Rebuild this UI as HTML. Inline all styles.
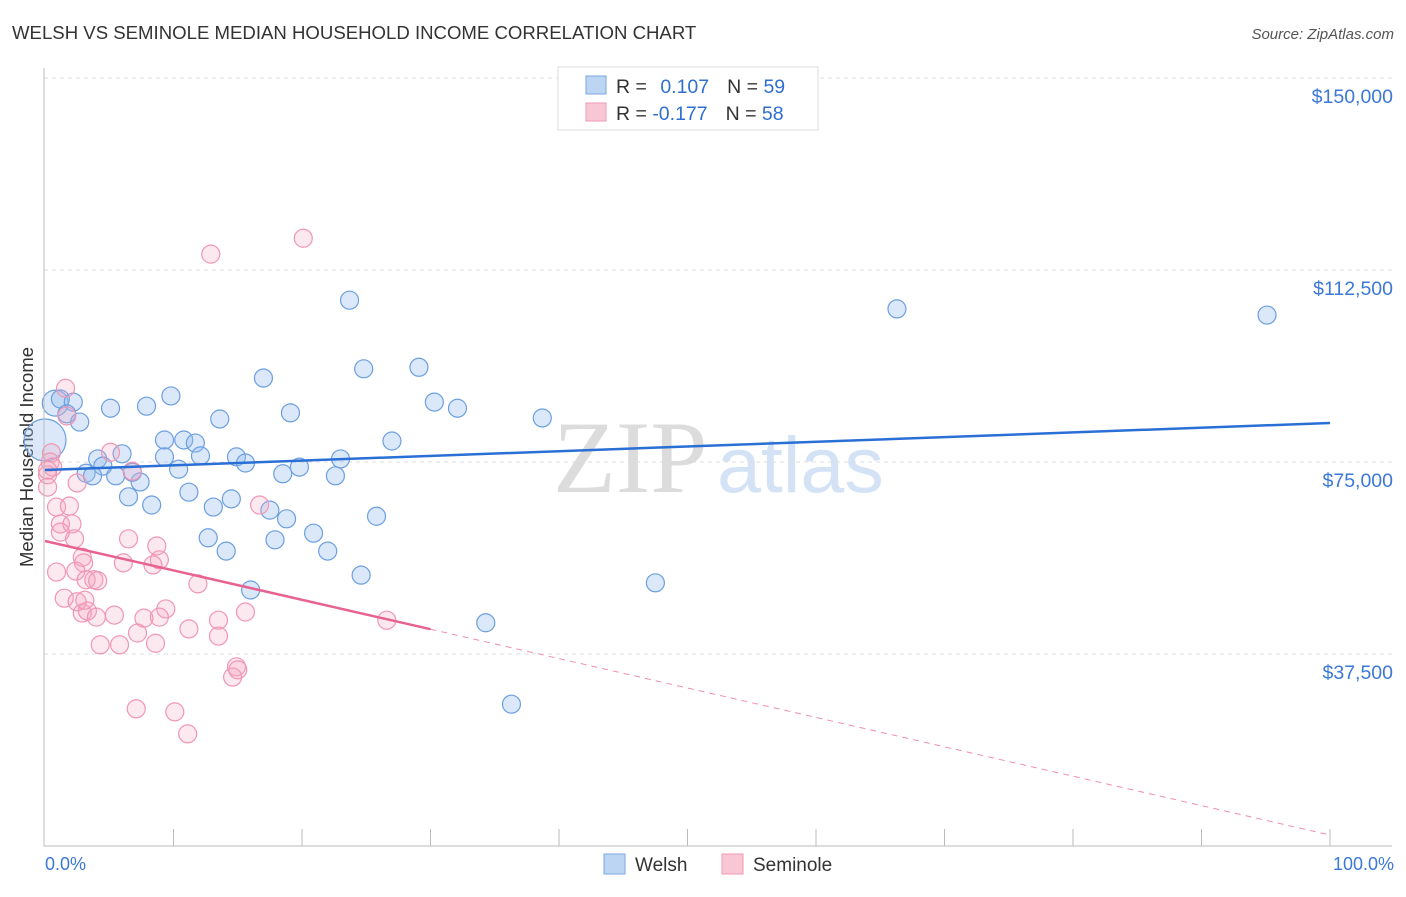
<!DOCTYPE html>
<html><head><meta charset="utf-8"><style>
body{margin:0;background:#fff;font-family:"Liberation Sans",sans-serif}
svg text{font-family:"Liberation Sans",sans-serif}
</style></head><body>
<svg width="1406" height="892" viewBox="0 0 1406 892" id="c">
<text x="12" y="39" font-size="18.6" fill="#333">WELSH VS SEMINOLE MEDIAN HOUSEHOLD INCOME CORRELATION CHART</text>
<text x="1394" y="39" font-size="15" fill="#555" font-style="italic" text-anchor="end">Source: ZipAtlas.com</text>
<text x="33" y="457" font-size="18.5" fill="#333" text-anchor="middle" transform="rotate(-90 33 457)">Median Household Income</text>
<text x="553" y="492" font-size="103" fill="#dcdcdc" style="font-family:'Liberation Serif',serif">ZIP</text>
<text x="717" y="492" font-size="79" fill="#d3e3f5">atlas</text>
<g id="grid"></g><g id="pts"></g><g id="trend"></g>
<line x1="44" y1="68" x2="44" y2="846" stroke="#bbb"/>
<line x1="44" y1="846" x2="1392" y2="846" stroke="#bbb"/>
<text x="45" y="870" font-size="18" fill="#3b78d8">0.0%</text>
<text x="1394" y="870" font-size="18" fill="#3b78d8" text-anchor="end">100.0%</text>
<g>
<rect x="558" y="67" width="260" height="63" fill="#fff" stroke="#ddd"/>
<rect x="586" y="76" width="20" height="18" fill="#bcd5f3" stroke="#7aa7e0"/>
<rect x="586" y="103" width="20" height="18" fill="#f9c6d5" stroke="#ee99b3"/>
<text x="616" y="93" font-size="19.5" fill="#333">R = <tspan fill="#2f6fd0" dx="8">0.107</tspan><tspan dx="18">N = </tspan><tspan fill="#2f6fd0">59</tspan></text>
<text x="616" y="120" font-size="19.5" fill="#333">R = <tspan fill="#2f6fd0">-0.177</tspan><tspan dx="18">N = </tspan><tspan fill="#2f6fd0">58</tspan></text>
</g>
<g>
<rect x="604" y="854" width="21" height="20" fill="#bcd5f3" stroke="#7aa7e0"/>
<text x="635" y="871" font-size="19" fill="#333">Welsh</text>
<rect x="722" y="854" width="21" height="20" fill="#f9c6d5" stroke="#ee99b3"/>
<text x="753" y="871" font-size="19" fill="#333">Seminole</text>
</g>
</svg>
<script>
const yTicks=[37500,75000,112500,150000];
const yTickLabels=["$37,500","$75,000","$112,500","$150,000"];
const xTickPcts=[10,20,30,40,50,60,70,80,90,100];
const welshX=[0,0.8,1.2,2.2,1.7,2.7,5.1,7.9,9.8,17.0,19.1,13.6,23.7,24.8,29.1,30.3,32.1,27.0,38.7,66.3,95.1,9.3,10.8,11.7,9.3,10.4,4.1,4.5,3.2,3.7,5.5,7.4,6.8,14.9,15.6,12.1,19.8,18.5,23.0,22.6,11.2,6.5,8.3,13.1,14.5,17.5,18.8,12.7,14.1,17.9,20.9,22.0,25.8,24.6,16.0,47.5,34.3,36.3,6.0];
const welshY=[79.3,86.5,87.3,86.7,84.4,82.8,85.5,85.9,87.9,91.4,84.6,83.4,106.6,93.2,93.5,86.7,85.5,79.1,83.6,104.9,103.7,79.3,79.3,78.7,76.0,73.6,75.6,74.2,72.8,72.3,72.3,71.1,73.0,76.0,74.8,76.2,74.0,72.7,75.6,72.3,69.1,68.2,66.6,66.2,67.8,65.6,63.9,60.2,57.6,59.8,61.1,57.6,64.4,52.9,50.0,51.4,43.6,27.7,76.6];
const seminoleX=[1.6,1.7,0.5,0.4,0.6,0.2,0.2,2.5,6.8,5.1,0.9,1.9,1.2,2.1,1.2,2.3,2.9,3.0,2.4,0.9,3.8,3.2,4.1,6.1,8.7,8.9,8.4,6.5,1.5,2.5,2.9,3.3,4.0,5.4,3.1,7.7,9.4,11.9,7.2,8.9,11.2,13.5,13.5,15.6,4.3,5.8,8.6,14.9,15.0,14.6,7.1,10.1,11.1,12.9,20.1,16.7,26.6,0.2];
const seminoleY=[89.4,84.0,76.8,75.0,74.0,72.5,70.1,70.9,73.2,76.9,66.2,66.4,62.9,62.9,61.3,60.0,56.4,55.3,53.7,53.5,52.0,52.0,51.8,55.3,58.6,55.9,54.9,60.0,48.4,47.7,45.5,45.9,44.7,45.1,48.0,44.5,46.3,51.2,41.6,44.7,42.4,44.1,41.0,45.7,39.3,39.3,39.6,35.0,34.4,33.0,26.8,26.2,21.9,115.6,118.7,66.6,44.1,73.4];
const welshTrend=[73437,82617];
const seminoleTrend=[59570,2148];
const seminoleSolidEnd=30;
const NS="http://www.w3.org/2000/svg";
const X=p=>45+p*12.85, Y=v=>846-v/37500*192;
function mk(t,a,par){const e=document.createElementNS(NS,t);for(const k in a)e.setAttribute(k,a[k]);document.getElementById(par).appendChild(e);return e;}
yTicks.forEach((v,i)=>{
 const l=mk('line',{x1:44,x2:1392,y1:Y(v),y2:Y(v),stroke:'#ddd','stroke-dasharray':'4,4'},'grid');
 
 
 const t=mk('text',{x:1393,y:Y(v)+25,'font-size':19.5,fill:'#3b78d8','text-anchor':'end'},'grid');
 t.textContent=yTickLabels[i];
 
 
});
xTickPcts.forEach(p=>{
 const l=mk('line',{x1:X(p),x2:X(p),y1:829,y2:846,stroke:'#bbb'},'grid');
 
 
});
welshX.forEach((x,i)=>{
 const r=i==0?21:(i==1?13:9);
 const c=mk('circle',{cx:X(x),cy:Y(welshY[i]*1000),r:r,fill:'rgba(150,188,238,0.35)',stroke:'#6c9fe0','stroke-width':1.2},'pts');
 
 
});
seminoleX.forEach((x,i)=>{
 const c=mk('circle',{cx:X(x),cy:Y(seminoleY[i]*1000),r:9,fill:'rgba(245,165,190,0.25)',stroke:'#f196b3','stroke-width':1.2},'pts');
 
 
});
const bt=mk('line',{x1:X(0),y1:Y(welshTrend[0]),x2:X(100),y2:Y(welshTrend[1]),stroke:'#2a6fd6','stroke-width':2.5},'trend');


const sv=p=>seminoleTrend[0]+(seminoleTrend[1]-seminoleTrend[0])*p/100;
const pt=mk('line',{x1:X(0),y1:Y(sv(0)),x2:X(seminoleSolidEnd),y2:Y(sv(seminoleSolidEnd)),stroke:'#e8628f','stroke-width':2.5},'trend');


const pd=mk('line',{x1:X(seminoleSolidEnd),y1:Y(sv(seminoleSolidEnd)),x2:X(100),y2:Y(sv(100)),stroke:'#ef8fb0','stroke-width':1,'stroke-dasharray':'6,5'},'trend');


</script>
</body></html>
